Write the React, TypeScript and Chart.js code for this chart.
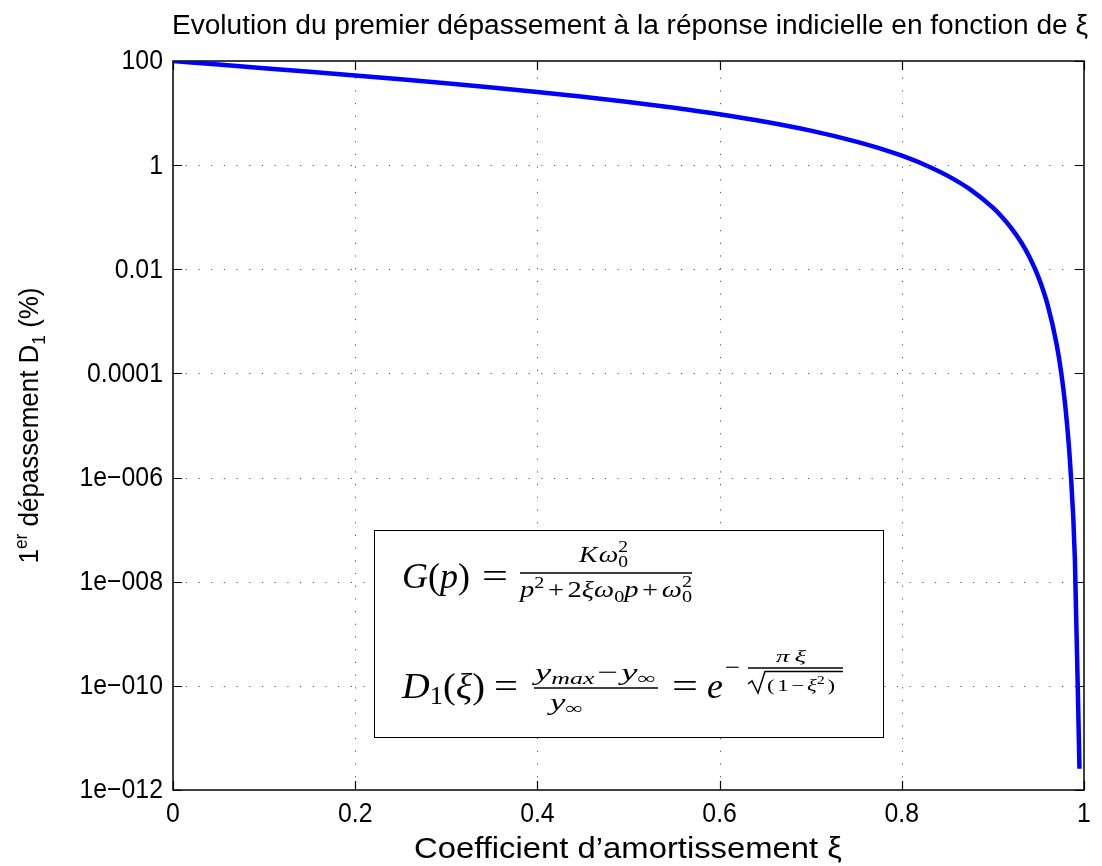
import React, { useEffect, useRef } from "react";
import { Chart, registerables } from "chart.js";

Chart.register(...registerables);

// ---- data ----
const xiValues = [
  0, 0.05, 0.1, 0.15, 0.2, 0.25, 0.3, 0.35, 0.4, 0.45, 0.5, 0.55, 0.6, 0.65, 0.7,
  0.75, 0.775, 0.8, 0.825, 0.85, 0.875, 0.9, 0.91, 0.92, 0.93, 0.94, 0.95, 0.96,
  0.97, 0.975, 0.98, 0.985, 0.99, 0.995,
];
const overshootPct = [
  100, 85.45, 72.92, 62.09, 52.66, 44.43, 37.23, 30.92, 25.38, 20.53, 16.3, 12.63,
  9.478, 6.808, 4.599, 2.838, 2.122, 1.516, 1.019, 0.6288, 0.342, 0.1524, 0.1013,
  0.06269, 0.03531, 0.01741, 0.00706, 0.0021, 0.00036, 0.0001031, 1.909e-5,
  1.628e-6, 2.66e-8, 2.555e-12,
];
const xTickValues = [0, 0.2, 0.4, 0.6, 0.8, 1];
const xTickLabels = ["0", "0.2", "0.4", "0.6", "0.8", "1"];
const yTickValues = [1e-12, 1e-10, 1e-8, 1e-6, 1e-4, 1e-2, 1, 100];
const yTickLabels = ["1e\u2212012", "1e\u2212010", "1e\u2212008", "1e\u2212006", "0.0001", "0.01", "1", "100"];
const titleText = "Evolution du premier dépassement à la réponse indicielle en fonction de ξ";
const xAxisTitle = "Coefficient d\u2019amortissement ξ";

const SANS = '"Liberation Sans", Arial, Helvetica, sans-serif';
const SERIF = '"Liberation Serif", "DejaVu Serif", serif';
const sans = (s: number) => `${s}px ${SANS}`;
const it = (s: number) => `italic ${s}px ${SERIF}`;
const rm = (s: number) => `${s}px ${SERIF}`;

type Run = { t: string; f: string; dy?: number; gap?: number; noAdv?: boolean };

function runsWidth(ctx: CanvasRenderingContext2D, runs: Run[]) {
  let w = 0;
  for (const r of runs) {
    ctx.font = r.f;
    w += r.gap || 0;
    if (!r.noAdv) w += ctx.measureText(r.t).width;
  }
  return w;
}

function drawRunsAt(ctx: CanvasRenderingContext2D, runs: Run[], x0: number, y: number) {
  let x = x0;
  for (const r of runs) {
    ctx.font = r.f;
    x += r.gap || 0;
    ctx.fillText(r.t, x, y + (r.dy || 0));
    if (!r.noAdv) x += ctx.measureText(r.t).width;
  }
}

// draw runs fitted horizontally between x0 and x1
function drawRunsFit(ctx: CanvasRenderingContext2D, runs: Run[], x0: number, x1: number, y: number) {
  const w = runsWidth(ctx, runs);
  const sx = (x1 - x0) / w;
  ctx.save();
  ctx.translate(x0, y);
  ctx.scale(sx, 1);
  ctx.textAlign = "left";
  ctx.textBaseline = "alphabetic";
  drawRunsAt(ctx, runs, 0, 0);
  ctx.restore();
}

// draw a single string with a horizontal squeeze factor
function drawSqueezed(ctx: CanvasRenderingContext2D, text: string, font: string, x: number, y: number, align: "left" | "right" | "center", sx: number) {
  ctx.save();
  ctx.font = font;
  ctx.translate(x, y);
  ctx.scale(sx, 1);
  ctx.textAlign = align;
  ctx.fillText(text, 0, 0);
  ctx.restore();
}

function hline(ctx: CanvasRenderingContext2D, x0: number, x1: number, y: number, lw = 1.3) {
  ctx.save();
  ctx.lineWidth = lw;
  ctx.strokeStyle = "#000";
  ctx.beginPath();
  ctx.moveTo(x0, y);
  ctx.lineTo(x1, y);
  ctx.stroke();
  ctx.restore();
}

const decorPlugin = {
  id: "decor",
  beforeDatasetsDraw(chart: any) {
    const { ctx, chartArea: a, scales } = chart;
    const xs = scales.x;
    const ys = scales.y;
    ctx.save();
    // dotted grid
    ctx.strokeStyle = "#555";
    ctx.lineWidth = 1;
    ctx.setLineDash([1.2, 11.5]);
    for (const v of xTickValues) {
      const px = Math.round(xs.getPixelForValue(v)) + 0.5;
      if (px <= a.left + 2 || px >= a.right - 2) continue;
      ctx.beginPath();
      ctx.moveTo(px, a.bottom);
      ctx.lineTo(px, a.top);
      ctx.stroke();
    }
    for (const v of yTickValues) {
      const py = Math.round(ys.getPixelForValue(v)) + 0.5;
      if (py <= a.top + 2 || py >= a.bottom - 2) continue;
      ctx.beginPath();
      ctx.moveTo(a.left, py);
      ctx.lineTo(a.right, py);
      ctx.stroke();
    }
    ctx.setLineDash([]);
    // axes box
    ctx.strokeStyle = "#000";
    ctx.lineWidth = 1.5;
    ctx.strokeRect(a.left, a.top, a.right - a.left, a.bottom - a.top);
    // inward ticks
    ctx.lineWidth = 1.2;
    const tl = 9;
    for (const v of xTickValues) {
      const px = Math.round(xs.getPixelForValue(v)) + 0.5;
      ctx.beginPath();
      ctx.moveTo(px, a.bottom);
      ctx.lineTo(px, a.bottom - tl);
      ctx.moveTo(px, a.top);
      ctx.lineTo(px, a.top + tl);
      ctx.stroke();
    }
    for (const v of yTickValues) {
      const py = Math.round(ys.getPixelForValue(v)) + 0.5;
      ctx.beginPath();
      ctx.moveTo(a.left, py);
      ctx.lineTo(a.left + tl, py);
      ctx.moveTo(a.right, py);
      ctx.lineTo(a.right - tl, py);
      ctx.stroke();
    }
    ctx.restore();
  },
  afterDraw(chart: any) {
    const { ctx, chartArea: a, scales } = chart;
    const xs = scales.x;
    const ys = scales.y;
    ctx.save();
    ctx.fillStyle = "#000";
    // tick labels
    ctx.textBaseline = "middle";
    yTickValues.forEach((v, i) => {
      drawSqueezed(ctx, yTickLabels[i], sans(27), a.left - 10, ys.getPixelForValue(v) + 1, "right", 0.92);
    });
    xTickValues.forEach((v, i) => {
      drawSqueezed(ctx, xTickLabels[i], sans(27), xs.getPixelForValue(v), a.bottom + 25, "center", 0.92);
    });
    // title
    ctx.textBaseline = "alphabetic";
    drawRunsFit(ctx, [{ t: titleText, f: sans(27) }], 172, 1088, 34);
    // x axis title
    drawRunsFit(ctx, [{ t: xAxisTitle, f: sans(29) }], 414, 842, 858);
    // y axis title (rotated)
    const yRuns: Run[] = [
      { t: "1", f: sans(27) },
      { t: "er", f: sans(18), dy: -11 },
      { t: " dépassement D", f: sans(27) },
      { t: "1", f: sans(18), dy: 7 },
      { t: " (%)", f: sans(27) },
    ];
    ctx.save();
    ctx.translate(38, (a.top + a.bottom) / 2);
    ctx.rotate(-Math.PI / 2);
    drawRunsFit(ctx, yRuns, -138, 138, 0);
    ctx.restore();

    // ---- formula box ----
    ctx.fillStyle = "#fff";
    ctx.fillRect(374, 530, 509, 207);
    ctx.strokeStyle = "#000";
    ctx.lineWidth = 1;
    ctx.strokeRect(374.5, 530.5, 509, 207);
    ctx.fillStyle = "#000";

    // G(p) = K w0^2 / (p^2 + 2 xi w0 p + w0^2)
    drawRunsFit(ctx, [
      { t: "G", f: it(36) }, { t: "(", f: rm(36) }, { t: "p", f: it(36) }, { t: ")", f: rm(36) },
    ], 402, 470, 588);
    drawRunsFit(ctx, [{ t: "=", f: rm(36) }], 482, 508, 588);
    hline(ctx, 520, 692, 573);
    drawRunsFit(ctx, [
      { t: "K", f: it(24) }, { t: "ω", f: it(24), gap: 1 },
      { t: "2", f: rm(17), dy: -10, noAdv: true }, { t: "0", f: rm(17), dy: 5 },
    ], 579, 628, 562);
    drawRunsFit(ctx, [
      { t: "p", f: it(24) }, { t: "2", f: rm(17), dy: -9 },
      { t: "+", f: rm(24), gap: 3 }, { t: "2", f: rm(24), gap: 3 },
      { t: "ξ", f: it(24) }, { t: "ω", f: it(24) }, { t: "0", f: rm(17), dy: 5 },
      { t: "p", f: it(24) }, { t: "+", f: rm(24), gap: 3 }, { t: "ω", f: it(24), gap: 3 },
      { t: "2", f: rm(17), dy: -10, noAdv: true }, { t: "0", f: rm(17), dy: 5 },
    ], 520, 692, 597);

    // D1(xi) = (ymax - yinf)/yinf = e^{-pi xi / sqrt(1 - xi^2)}
    drawRunsFit(ctx, [
      { t: "D", f: it(36) }, { t: "1", f: rm(25), dy: 6 }, { t: "(", f: rm(36) },
      { t: "ξ", f: it(36) }, { t: ")", f: rm(36) },
    ], 402, 485, 698);
    drawRunsFit(ctx, [{ t: "=", f: rm(36) }], 494, 518, 698);
    hline(ctx, 534, 658, 688);
    drawRunsFit(ctx, [
      { t: "y", f: it(24) }, { t: "max", f: it(17), dy: 4 },
      { t: "−", f: rm(24), gap: 2 }, { t: "y", f: it(24), gap: 2 }, { t: "∞", f: rm(17), dy: 4 },
    ], 535, 656, 680);
    drawRunsFit(ctx, [{ t: "y", f: it(24) }, { t: "∞", f: rm(17), dy: 4 }], 550, 583, 710);
    drawRunsFit(ctx, [{ t: "=", f: rm(36) }], 672, 698, 698);
    drawRunsFit(ctx, [{ t: "e", f: it(36) }], 707, 723, 698);
    drawRunsFit(ctx, [{ t: "−", f: rm(24) }], 725, 740, 675);
    drawRunsFit(ctx, [{ t: "π", f: it(17) }, { t: "ξ", f: it(17), gap: 3 }], 776, 806, 662);
    hline(ctx, 748, 843, 668, 1.5);
    // radical
    ctx.save();
    ctx.strokeStyle = "#000";
    ctx.lineWidth = 1.5;
    ctx.beginPath();
    ctx.moveTo(748, 684);
    ctx.lineTo(752, 681);
    ctx.lineTo(758, 693);
    ctx.lineTo(765, 671.5);
    ctx.lineTo(843, 671.5);
    ctx.stroke();
    ctx.restore();
    drawRunsFit(ctx, [
      { t: "(", f: rm(17) }, { t: "1", f: rm(17), gap: 2 }, { t: "−", f: rm(17), gap: 2 },
      { t: "ξ", f: it(17), gap: 2 }, { t: "2", f: rm(12), dy: -7 }, { t: ")", f: rm(17), gap: 2 },
    ], 767, 835, 691);
    ctx.restore();
  },
};

export default function App() {
  const ref = useRef<HTMLCanvasElement | null>(null);
  useEffect(() => {
    document.body.style.margin = "0";
    const canvas = ref.current!;
    const chart = new Chart(canvas, {
      type: "line",
      data: {
        datasets: [
          {
            data: xiValues.map((x, i) => ({ x, y: overshootPct[i] })),
            borderColor: "#0000ff",
            borderWidth: 4.5,
            pointRadius: 0,
            fill: false,
            cubicInterpolationMode: "monotone",
          },
        ],
      },
      options: {
        animation: false,
        responsive: false,
        devicePixelRatio: 1,
        layout: { padding: { top: 61, left: 173, right: 18, bottom: 76 } },
        plugins: { legend: { display: false }, tooltip: { enabled: false }, title: { display: false } },
        scales: {
          x: { type: "linear", min: 0, max: 1, display: false },
          y: { type: "logarithmic", min: 1e-12, max: 100, display: false },
        },
      },
      plugins: [decorPlugin],
    } as any);
    return () => chart.destroy();
  }, []);
  return (
    <div style={{ width: 1102, height: 866, background: "#fff" }}>
      <canvas ref={ref} width={1102} height={866} style={{ display: "block" }} />
    </div>
  );
}
